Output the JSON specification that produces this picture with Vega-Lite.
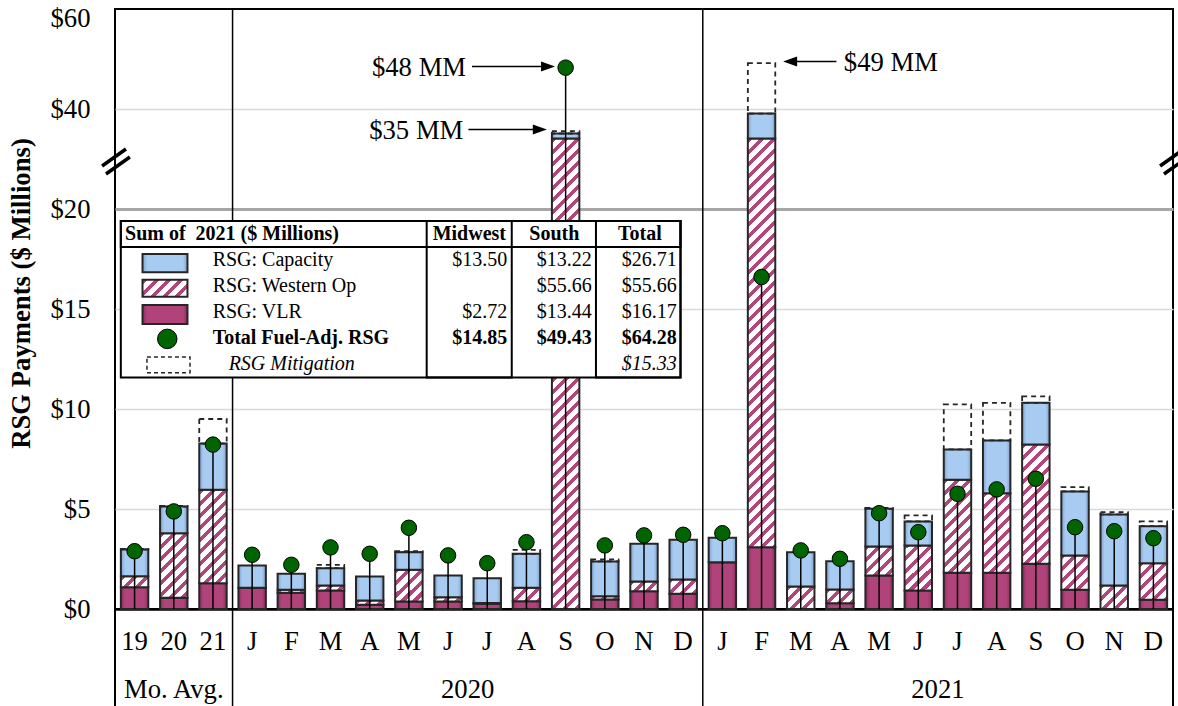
{
"$schema":"https://vega.github.io/schema/vega-lite/v6.json",
"width":1058,"height":600,
"autosize":{"type":"none"},
"padding":{"left":115,"top":9,"right":5,"bottom":97},
"background":"white",
"config":{"view":{"stroke":"black","strokeWidth":2},"font":"Liberation Serif","axis":{"labelFont":"Liberation Serif","titleFont":"Liberation Serif","labelColor":"black","titleColor":"black"},"text":{"font":"Liberation Serif","color":"black"}},
"params":[{"name":"hatch","value":[
{"offset":0,"color":"#b04679"},{"offset":0.0095,"color":"#b04679"},{"offset":0.0095,"color":"#fff"},{"offset":0.0227,"color":"#fff"},
{"offset":0.0227,"color":"#b04679"},{"offset":0.0322,"color":"#b04679"},{"offset":0.0322,"color":"#fff"},{"offset":0.0455,"color":"#fff"},
{"offset":0.0455,"color":"#b04679"},{"offset":0.055,"color":"#b04679"},{"offset":0.055,"color":"#fff"},{"offset":0.0682,"color":"#fff"},
{"offset":0.0682,"color":"#b04679"},{"offset":0.0777,"color":"#b04679"},{"offset":0.0777,"color":"#fff"},{"offset":0.0909,"color":"#fff"},
{"offset":0.0909,"color":"#b04679"},{"offset":0.1004,"color":"#b04679"},{"offset":0.1004,"color":"#fff"},{"offset":0.1136,"color":"#fff"},
{"offset":0.1136,"color":"#b04679"},{"offset":0.1231,"color":"#b04679"},{"offset":0.1231,"color":"#fff"},{"offset":0.1364,"color":"#fff"},
{"offset":0.1364,"color":"#b04679"},{"offset":0.1459,"color":"#b04679"},{"offset":0.1459,"color":"#fff"},{"offset":0.1591,"color":"#fff"},
{"offset":0.1591,"color":"#b04679"},{"offset":0.1686,"color":"#b04679"},{"offset":0.1686,"color":"#fff"},{"offset":0.1818,"color":"#fff"},
{"offset":0.1818,"color":"#b04679"},{"offset":0.1913,"color":"#b04679"},{"offset":0.1913,"color":"#fff"},{"offset":0.2045,"color":"#fff"},
{"offset":0.2045,"color":"#b04679"},{"offset":0.214,"color":"#b04679"},{"offset":0.214,"color":"#fff"},{"offset":0.2273,"color":"#fff"},
{"offset":0.2273,"color":"#b04679"},{"offset":0.2368,"color":"#b04679"},{"offset":0.2368,"color":"#fff"},{"offset":0.25,"color":"#fff"},
{"offset":0.25,"color":"#b04679"},{"offset":0.2595,"color":"#b04679"},{"offset":0.2595,"color":"#fff"},{"offset":0.2727,"color":"#fff"},
{"offset":0.2727,"color":"#b04679"},{"offset":0.2822,"color":"#b04679"},{"offset":0.2822,"color":"#fff"},{"offset":0.2955,"color":"#fff"},
{"offset":0.2955,"color":"#b04679"},{"offset":0.305,"color":"#b04679"},{"offset":0.305,"color":"#fff"},{"offset":0.3182,"color":"#fff"},
{"offset":0.3182,"color":"#b04679"},{"offset":0.3277,"color":"#b04679"},{"offset":0.3277,"color":"#fff"},{"offset":0.3409,"color":"#fff"},
{"offset":0.3409,"color":"#b04679"},{"offset":0.3504,"color":"#b04679"},{"offset":0.3504,"color":"#fff"},{"offset":0.3636,"color":"#fff"},
{"offset":0.3636,"color":"#b04679"},{"offset":0.3731,"color":"#b04679"},{"offset":0.3731,"color":"#fff"},{"offset":0.3864,"color":"#fff"},
{"offset":0.3864,"color":"#b04679"},{"offset":0.3959,"color":"#b04679"},{"offset":0.3959,"color":"#fff"},{"offset":0.4091,"color":"#fff"},
{"offset":0.4091,"color":"#b04679"},{"offset":0.4186,"color":"#b04679"},{"offset":0.4186,"color":"#fff"},{"offset":0.4318,"color":"#fff"},
{"offset":0.4318,"color":"#b04679"},{"offset":0.4413,"color":"#b04679"},{"offset":0.4413,"color":"#fff"},{"offset":0.4545,"color":"#fff"},
{"offset":0.4545,"color":"#b04679"},{"offset":0.464,"color":"#b04679"},{"offset":0.464,"color":"#fff"},{"offset":0.4773,"color":"#fff"},
{"offset":0.4773,"color":"#b04679"},{"offset":0.4868,"color":"#b04679"},{"offset":0.4868,"color":"#fff"},{"offset":0.5,"color":"#fff"},
{"offset":0.5,"color":"#b04679"},{"offset":0.5095,"color":"#b04679"},{"offset":0.5095,"color":"#fff"},{"offset":0.5227,"color":"#fff"},
{"offset":0.5227,"color":"#b04679"},{"offset":0.5322,"color":"#b04679"},{"offset":0.5322,"color":"#fff"},{"offset":0.5455,"color":"#fff"},
{"offset":0.5455,"color":"#b04679"},{"offset":0.555,"color":"#b04679"},{"offset":0.555,"color":"#fff"},{"offset":0.5682,"color":"#fff"},
{"offset":0.5682,"color":"#b04679"},{"offset":0.5777,"color":"#b04679"},{"offset":0.5777,"color":"#fff"},{"offset":0.5909,"color":"#fff"},
{"offset":0.5909,"color":"#b04679"},{"offset":0.6004,"color":"#b04679"},{"offset":0.6004,"color":"#fff"},{"offset":0.6136,"color":"#fff"},
{"offset":0.6136,"color":"#b04679"},{"offset":0.6231,"color":"#b04679"},{"offset":0.6231,"color":"#fff"},{"offset":0.6364,"color":"#fff"},
{"offset":0.6364,"color":"#b04679"},{"offset":0.6459,"color":"#b04679"},{"offset":0.6459,"color":"#fff"},{"offset":0.6591,"color":"#fff"},
{"offset":0.6591,"color":"#b04679"},{"offset":0.6686,"color":"#b04679"},{"offset":0.6686,"color":"#fff"},{"offset":0.6818,"color":"#fff"},
{"offset":0.6818,"color":"#b04679"},{"offset":0.6913,"color":"#b04679"},{"offset":0.6913,"color":"#fff"},{"offset":0.7045,"color":"#fff"},
{"offset":0.7045,"color":"#b04679"},{"offset":0.714,"color":"#b04679"},{"offset":0.714,"color":"#fff"},{"offset":0.7273,"color":"#fff"},
{"offset":0.7273,"color":"#b04679"},{"offset":0.7368,"color":"#b04679"},{"offset":0.7368,"color":"#fff"},{"offset":0.75,"color":"#fff"},
{"offset":0.75,"color":"#b04679"},{"offset":0.7595,"color":"#b04679"},{"offset":0.7595,"color":"#fff"},{"offset":0.7727,"color":"#fff"},
{"offset":0.7727,"color":"#b04679"},{"offset":0.7822,"color":"#b04679"},{"offset":0.7822,"color":"#fff"},{"offset":0.7955,"color":"#fff"},
{"offset":0.7955,"color":"#b04679"},{"offset":0.805,"color":"#b04679"},{"offset":0.805,"color":"#fff"},{"offset":0.8182,"color":"#fff"},
{"offset":0.8182,"color":"#b04679"},{"offset":0.8277,"color":"#b04679"},{"offset":0.8277,"color":"#fff"},{"offset":0.8409,"color":"#fff"},
{"offset":0.8409,"color":"#b04679"},{"offset":0.8504,"color":"#b04679"},{"offset":0.8504,"color":"#fff"},{"offset":0.8636,"color":"#fff"},
{"offset":0.8636,"color":"#b04679"},{"offset":0.8731,"color":"#b04679"},{"offset":0.8731,"color":"#fff"},{"offset":0.8864,"color":"#fff"},
{"offset":0.8864,"color":"#b04679"},{"offset":0.8959,"color":"#b04679"},{"offset":0.8959,"color":"#fff"},{"offset":0.9091,"color":"#fff"},
{"offset":0.9091,"color":"#b04679"},{"offset":0.9186,"color":"#b04679"},{"offset":0.9186,"color":"#fff"},{"offset":0.9318,"color":"#fff"},
{"offset":0.9318,"color":"#b04679"},{"offset":0.9413,"color":"#b04679"},{"offset":0.9413,"color":"#fff"},{"offset":0.9545,"color":"#fff"},
{"offset":0.9545,"color":"#b04679"},{"offset":0.964,"color":"#b04679"},{"offset":0.964,"color":"#fff"},{"offset":0.9773,"color":"#fff"},
{"offset":0.9773,"color":"#b04679"},{"offset":0.9868,"color":"#b04679"},{"offset":0.9868,"color":"#fff"},{"offset":1,"color":"#fff"}
]}],
"datasets":{
"bars":[
{"key":"A19","vlr":1.09,"west":0.55,"cap":1.34,"mit":0.03,"tot":2.89},
{"key":"A20","vlr":0.56,"west":3.23,"cap":1.33,"mit":0.04,"tot":4.88},
{"key":"A21","vlr":1.29,"west":4.67,"cap":2.31,"mit":1.23,"tot":8.22},
{"key":"2020-01","vlr":1.06,"west":0,"cap":1.11,"mit":0,"tot":2.71},
{"key":"2020-02","vlr":0.81,"west":0.15,"cap":0.8,"mit":0,"tot":2.21},
{"key":"2020-03","vlr":0.93,"west":0.25,"cap":0.86,"mit":0.17,"tot":3.08},
{"key":"2020-04","vlr":0.21,"west":0.22,"cap":1.2,"mit":0,"tot":2.76},
{"key":"2020-05","vlr":0.38,"west":1.58,"cap":0.88,"mit":0.05,"tot":4.06},
{"key":"2020-06","vlr":0.38,"west":0.21,"cap":1.09,"mit":0,"tot":2.68},
{"key":"2020-07","vlr":0.26,"west":0.04,"cap":1.24,"mit":0,"tot":2.29},
{"key":"2020-08","vlr":0.39,"west":0.67,"cap":1.7,"mit":0.2,"tot":3.34},
{"key":"2020-09","vlr":0,"west":34.1,"cap":1.0,"mit":0.46,"tot":48.27},
{"key":"2020-10","vlr":0.48,"west":0.16,"cap":1.74,"mit":0.1,"tot":3.18},
{"key":"2020-11","vlr":0.89,"west":0.49,"cap":1.88,"mit":0,"tot":3.68},
{"key":"2020-12","vlr":0.76,"west":0.72,"cap":1.98,"mit":0,"tot":3.71},
{"key":"2021-01","vlr":2.34,"west":0,"cap":1.22,"mit":0,"tot":3.79},
{"key":"2021-02","vlr":3.09,"west":31.0,"cap":5.0,"mit":10.1,"tot":16.6},
{"key":"2021-03","vlr":0,"west":1.12,"cap":1.72,"mit":0,"tot":2.93},
{"key":"2021-04","vlr":0.29,"west":0.69,"cap":1.41,"mit":0,"tot":2.51},
{"key":"2021-05","vlr":1.68,"west":1.45,"cap":1.88,"mit":0.05,"tot":4.79},
{"key":"2021-06","vlr":0.93,"west":2.25,"cap":1.2,"mit":0.3,"tot":3.84},
{"key":"2021-07","vlr":1.81,"west":4.65,"cap":1.52,"mit":2.25,"tot":5.76},
{"key":"2021-08","vlr":1.81,"west":3.98,"cap":2.64,"mit":1.88,"tot":5.98},
{"key":"2021-09","vlr":2.26,"west":5.97,"cap":2.08,"mit":0.32,"tot":6.51},
{"key":"2021-10","vlr":0.96,"west":1.72,"cap":3.2,"mit":0.21,"tot":4.09},
{"key":"2021-11","vlr":0,"west":1.18,"cap":3.55,"mit":0.11,"tot":3.89},
{"key":"2021-12","vlr":0.46,"west":1.83,"cap":1.85,"mit":0.24,"tot":3.54}
],
"tbl":[
{"r":1,"label":"RSG: Capacity","mw":"$13.50","so":"$13.22","tot":"$26.71"},
{"r":2,"label":"RSG: Western Op","mw":"","so":"$55.66","tot":"$55.66"},
{"r":3,"label":"RSG: VLR","mw":"$2.72","so":"$13.44","tot":"$16.17"},
{"r":4,"label":"Total Fuel-Adj. RSG","mw":"$14.85","so":"$49.43","tot":"$64.28"},
{"r":5,"label":"RSG Mitigation","mw":"","so":"","tot":"$15.33"}
]
},
"resolve":{"scale":{"x":"independent","y":"independent"}},
"layer":[
{
 "data":{"name":"bars"},
 "encoding":{"x":{"field":"key","type":"nominal","scale":{"domain":["A19","A20","A21","2020-01","2020-02","2020-03","2020-04","2020-05","2020-06","2020-07","2020-08","2020-09","2020-10","2020-11","2020-12","2021-01","2021-02","2021-03","2021-04","2021-05","2021-06","2021-07","2021-08","2021-09","2021-10","2021-11","2021-12"],"paddingInner":0.3,"paddingOuter":0.15},
  "axis":{"title":null,"labelExpr":"length(datum.value) == 3 ? substring(datum.value,1,3) : ['J','F','M','A','M','J','J','A','S','O','N','D'][toNumber(substring(datum.value,5,7)) - 1]","labelAngle":0,"labelFontSize":26.7,"labelPadding":40,"labelBaseline":"alphabetic","labelOverlap":false,"ticks":false,"tickSize":0,"domain":true,"domainColor":"black","domainWidth":2.5,"grid":false}}},
 "layer":[
  {"transform":[{"fold":["vlr","west","cap","mit"],"as":["series","val"]},{"stack":"val","groupby":["key"],"as":["v0","v1"]}],
   "layer":[
    {"transform":[{"filter":"datum.series === 'vlr'"}],
     "mark":{"type":"bar","fill":{"gradient":"linear","x1":0,"y1":0,"x2":1,"y2":0,"stops":[{"offset":0,"color":"#8a2d5c"},{"offset":0.15,"color":"#b0447a"},{"offset":0.85,"color":"#b0447a"},{"offset":1,"color":"#8a2d5c"}]},"stroke":"#262626","strokeWidth":2},
     "encoding":{"y":{"field":"v0","type":"quantitative","title":"RSG Payments ($ Millions)","scale":{"domain":[0,20,60],"range":[600,200,0],"nice":false,"zero":false},
       "axis":{"title":"RSG Payments ($ Millions)","values":[0,5,10,15,20,40,60],"labelExpr":"'$' + datum.value","labelFontSize":26.7,"labelPadding":25,"labelOverlap":false,"labelOffset":{"condition":{"test":"datum.value === 60","value":9},"value":0},"ticks":false,"tickSize":0,"domain":false,"grid":true,
        "gridColor":{"condition":{"test":"datum.value === 20","value":"#a6a6a6"},"value":"#d9d9d9"},
        "gridWidth":{"condition":{"test":"datum.value === 20","value":3},"value":1.5},
        "gridOpacity":{"condition":{"test":"datum.value === 0 || datum.value === 60","value":0},"value":1},
        "titleFontSize":26.7,"titleFontWeight":"bold","titleAngle":-90,"titleX":-94,"titleY":284,"titleAlign":"center","titleBaseline":"middle"}},
      "y2":{"field":"v1"}}},
    {"transform":[{"filter":"datum.series === 'west'"}],
     "mark":{"type":"bar","fill":{"expr":"{gradient:'linear',x1:0,y1:0,x2:27.4*528/(750.8+pow((datum.v1<=20?datum.v1*20:400+(datum.v1-20)*5)-(datum.v0<=20?datum.v0*20:400+(datum.v0-20)*5),2)),y2:((datum.v1<=20?datum.v1*20:400+(datum.v1-20)*5)-(datum.v0<=20?datum.v0*20:400+(datum.v0-20)*5))*528/(750.8+pow((datum.v1<=20?datum.v1*20:400+(datum.v1-20)*5)-(datum.v0<=20?datum.v0*20:400+(datum.v0-20)*5),2)),stops:hatch}"},"stroke":"#262626","strokeWidth":2},
     "encoding":{"y":{"field":"v0","type":"quantitative","title":"RSG Payments ($ Millions)"},"y2":{"field":"v1"}}},
    {"transform":[{"filter":"datum.series === 'cap'"}],
     "mark":{"type":"bar","fill":{"gradient":"linear","x1":0,"y1":0,"x2":1,"y2":0,"stops":[{"offset":0,"color":"#7e9fcc"},{"offset":0.15,"color":"#a8cbf1"},{"offset":0.85,"color":"#a8cbf1"},{"offset":1,"color":"#7e9fcc"}]},"stroke":"#262626","strokeWidth":2},
     "encoding":{"y":{"field":"v0","type":"quantitative","title":"RSG Payments ($ Millions)"},"y2":{"field":"v1"}}},
    {"transform":[{"filter":"datum.series === 'mit' && datum.val > 0"}],
     "mark":{"type":"bar","fill":"transparent","stroke":"#262626","strokeWidth":1.8,"strokeDash":[5,4]},
     "encoding":{"y":{"field":"v0","type":"quantitative","title":"RSG Payments ($ Millions)"},"y2":{"field":"v1"}}}
   ]},
  {"mark":{"type":"rule","stroke":"black","strokeWidth":1.5},
   "encoding":{"y":{"field":"tot","type":"quantitative","title":"RSG Payments ($ Millions)"},"y2":{"datum":0}}},
  {"mark":{"type":"point","shape":"circle","filled":true,"fill":"#006400","stroke":"black","strokeWidth":1,"size":240,"opacity":1},
   "encoding":{"y":{"field":"tot","type":"quantitative","title":"RSG Payments ($ Millions)"}}}
 ]
},
{
 "layer":[
  {"data":{"values":[{}]},"mark":{"type":"rule","stroke":"black","strokeWidth":1.5},
   "encoding":{"x":{"datum":3,"type":"quantitative","scale":{"domain":[0,27],"nice":false,"zero":false},"axis":null},
    "y":{"datum":60,"type":"quantitative","scale":{"domain":[0,20,60],"range":[600,200,0],"nice":false,"zero":false},"axis":null},"y2":{"datum":-5}}},
  {"data":{"values":[{}]},"mark":{"type":"rule","stroke":"black","strokeWidth":1.5},
   "encoding":{"x":{"datum":15,"type":"quantitative","axis":null},"y":{"datum":60,"type":"quantitative","axis":null},"y2":{"datum":-5}}},
  {"data":{"values":[{}]},"mark":{"type":"rule","stroke":"black","strokeWidth":2},
   "encoding":{"x":{"datum":0,"type":"quantitative","axis":null},"y":{"datum":0,"type":"quantitative","axis":null},"y2":{"datum":-5}}},
  {"data":{"values":[{}]},"mark":{"type":"rule","stroke":"black","strokeWidth":2},
   "encoding":{"x":{"datum":27,"type":"quantitative","axis":null},"y":{"datum":0,"type":"quantitative","axis":null},"y2":{"datum":-5}}},
  {"data":{"values":[{}]},"mark":{"type":"text","text":"Mo. Avg.","align":"center","baseline":"alphabetic","fontSize":26.7},
   "encoding":{"x":{"datum":1.5,"type":"quantitative","axis":null},"y":{"datum":-4.47,"type":"quantitative","axis":null}}},
  {"data":{"values":[{}]},"mark":{"type":"text","text":"2020","align":"center","baseline":"alphabetic","fontSize":26.7},
   "encoding":{"x":{"datum":9,"type":"quantitative","axis":null},"y":{"datum":-4.47,"type":"quantitative","axis":null}}},
  {"data":{"values":[{}]},"mark":{"type":"text","text":"2021","align":"center","baseline":"alphabetic","fontSize":26.7},
   "encoding":{"x":{"datum":21,"type":"quantitative","axis":null},"y":{"datum":-4.47,"type":"quantitative","axis":null}}},
  {"data":{"values":[{}]},"mark":{"type":"rule","stroke":"black","strokeWidth":1.5},
   "encoding":{"x":{"datum":9.11,"type":"quantitative","axis":null},"x2":{"datum":11.0},"y":{"datum":48.5,"type":"quantitative","axis":null}}},
  {"data":{"values":[{}]},"mark":{"type":"point","shape":"M0,0L-2,-0.7L-2,0.7Z","filled":true,"fill":"black","strokeWidth":0,"size":196,"opacity":1},
   "encoding":{"x":{"datum":11.23,"type":"quantitative","axis":null},"y":{"datum":48.5,"type":"quantitative","axis":null}}},
  {"data":{"values":[{}]},"mark":{"type":"text","text":"$48 MM","align":"right","baseline":"middle","fontSize":26.7,"dy":1},
   "encoding":{"x":{"datum":8.96,"type":"quantitative","axis":null},"y":{"datum":48.5,"type":"quantitative","axis":null}}},
  {"data":{"values":[{}]},"mark":{"type":"rule","stroke":"black","strokeWidth":1.5},
   "encoding":{"x":{"datum":9.02,"type":"quantitative","axis":null},"x2":{"datum":10.8},"y":{"datum":35.9,"type":"quantitative","axis":null}}},
  {"data":{"values":[{}]},"mark":{"type":"point","shape":"M0,0L-2,-0.7L-2,0.7Z","filled":true,"fill":"black","strokeWidth":0,"size":196,"opacity":1},
   "encoding":{"x":{"datum":11.02,"type":"quantitative","axis":null},"y":{"datum":35.9,"type":"quantitative","axis":null}}},
  {"data":{"values":[{}]},"mark":{"type":"text","text":"$35 MM","align":"right","baseline":"middle","fontSize":26.7,"dy":1},
   "encoding":{"x":{"datum":8.89,"type":"quantitative","axis":null},"y":{"datum":35.9,"type":"quantitative","axis":null}}},
  {"data":{"values":[{}]},"mark":{"type":"rule","stroke":"black","strokeWidth":1.5},
   "encoding":{"x":{"datum":17.3,"type":"quantitative","axis":null},"x2":{"datum":18.41},"y":{"datum":49.5,"type":"quantitative","axis":null}}},
  {"data":{"values":[{}]},"mark":{"type":"point","shape":"M0,0L2,-0.7L2,0.7Z","filled":true,"fill":"black","strokeWidth":0,"size":196,"opacity":1},
   "encoding":{"x":{"datum":17.05,"type":"quantitative","axis":null},"y":{"datum":49.5,"type":"quantitative","axis":null}}},
  {"data":{"values":[{}]},"mark":{"type":"text","text":"$49 MM","align":"left","baseline":"middle","fontSize":26.7,"dy":1},
   "encoding":{"x":{"datum":18.6,"type":"quantitative","axis":null},"y":{"datum":49.5,"type":"quantitative","axis":null}}},
  {"data":{"values":[{}]},"mark":{"type":"rule","stroke":"black","strokeWidth":3.5},
   "encoding":{"x":{"datum":-0.33,"type":"quantitative","axis":null},"x2":{"datum":0.28},"y":{"datum":28.6,"type":"quantitative","axis":null},"y2":{"datum":32.0}}},
  {"data":{"values":[{}]},"mark":{"type":"rule","stroke":"black","strokeWidth":3.5},
   "encoding":{"x":{"datum":-0.23,"type":"quantitative","axis":null},"x2":{"datum":0.38},"y":{"datum":27.0,"type":"quantitative","axis":null},"y2":{"datum":30.4}}},
  {"data":{"values":[{}]},"mark":{"type":"rule","stroke":"black","strokeWidth":3.5},
   "encoding":{"x":{"datum":26.67,"type":"quantitative","axis":null},"x2":{"datum":27.28},"y":{"datum":28.6,"type":"quantitative","axis":null},"y2":{"datum":32.0}}},
  {"data":{"values":[{}]},"mark":{"type":"rule","stroke":"black","strokeWidth":3.5},
   "encoding":{"x":{"datum":26.77,"type":"quantitative","axis":null},"x2":{"datum":27.38},"y":{"datum":27.0,"type":"quantitative","axis":null},"y2":{"datum":30.4}}}
 ]
},
{
 "layer":[
  {"data":{"values":[{}]},"mark":{"type":"rect","fill":"white","stroke":"black","strokeWidth":2},
   "encoding":{"x":{"datum":0.55,"type":"quantitative","scale":{"domain":[0,100],"nice":false,"zero":false},"axis":null},"x2":{"datum":53.45},
    "y":{"datum":-0.5,"type":"quantitative","scale":{"domain":[-8.62,14.37],"reverse":true,"nice":false,"zero":false},"axis":null},"y2":{"datum":5.5}}},
  {"data":{"values":[{}]},"mark":{"type":"rect","fill":"transparent","stroke":"black","strokeWidth":2},
   "encoding":{"x":{"datum":0.55,"type":"quantitative","axis":null},"x2":{"datum":53.45},"y":{"datum":-0.5,"type":"quantitative","axis":null},"y2":{"datum":0.5}}},
  {"data":{"values":[{}]},"mark":{"type":"rect","fill":"transparent","stroke":"black","strokeWidth":2},
   "encoding":{"x":{"datum":29.46,"type":"quantitative","axis":null},"x2":{"datum":37.5},"y":{"datum":-0.5,"type":"quantitative","axis":null},"y2":{"datum":5.5}}},
  {"data":{"values":[{}]},"mark":{"type":"rect","fill":"transparent","stroke":"black","strokeWidth":2},
   "encoding":{"x":{"datum":45.46,"type":"quantitative","axis":null},"x2":{"datum":53.45},"y":{"datum":-0.5,"type":"quantitative","axis":null},"y2":{"datum":5.5}}},
  {"data":{"values":[{}]},"mark":{"type":"text","text":"Sum of\u00a0 2021 ($ Millions)","align":"left","baseline":"middle","fontSize":20,"fontWeight":"bold"},
   "encoding":{"x":{"datum":0.95,"type":"quantitative","axis":null},"y":{"datum":0,"type":"quantitative","axis":null}}},
  {"data":{"values":[{}]},"mark":{"type":"text","text":"Midwest","align":"center","baseline":"middle","fontSize":20,"fontWeight":"bold"},
   "encoding":{"x":{"datum":33.49,"type":"quantitative","axis":null},"y":{"datum":0,"type":"quantitative","axis":null}}},
  {"data":{"values":[{}]},"mark":{"type":"text","text":"South","align":"center","baseline":"middle","fontSize":20,"fontWeight":"bold"},
   "encoding":{"x":{"datum":41.52,"type":"quantitative","axis":null},"y":{"datum":0,"type":"quantitative","axis":null}}},
  {"data":{"values":[{}]},"mark":{"type":"text","text":"Total","align":"center","baseline":"middle","fontSize":20,"fontWeight":"bold"},
   "encoding":{"x":{"datum":49.62,"type":"quantitative","axis":null},"y":{"datum":0,"type":"quantitative","axis":null}}},
  {"data":{"values":[{}]},"mark":{"type":"rect","fill":{"gradient":"linear","x1":0,"y1":0,"x2":1,"y2":0,"stops":[{"offset":0,"color":"#7e9fcc"},{"offset":0.1,"color":"#a8cbf1"},{"offset":0.9,"color":"#a8cbf1"},{"offset":1,"color":"#7e9fcc"}]},"stroke":"#262626","strokeWidth":2},
   "encoding":{"x":{"datum":2.6,"type":"quantitative","axis":null},"x2":{"datum":6.85},"y":{"datum":0.77,"type":"quantitative","axis":null},"y2":{"datum":1.47}}},
  {"data":{"values":[{}]},"mark":{"type":"rect","fill":{"expr":"{gradient:'linear',x1:0,y1:0,x2:10.24,y2:3.91,stops:hatch}"},"stroke":"#262626","strokeWidth":2},
   "encoding":{"x":{"datum":2.6,"type":"quantitative","axis":null},"x2":{"datum":6.85},"y":{"datum":1.75,"type":"quantitative","axis":null},"y2":{"datum":2.41}}},
  {"data":{"values":[{}]},"mark":{"type":"rect","fill":{"gradient":"linear","x1":0,"y1":0,"x2":1,"y2":0,"stops":[{"offset":0,"color":"#8a2d5c"},{"offset":0.1,"color":"#b0447a"},{"offset":0.9,"color":"#b0447a"},{"offset":1,"color":"#8a2d5c"}]},"stroke":"#262626","strokeWidth":2},
   "encoding":{"x":{"datum":2.6,"type":"quantitative","axis":null},"x2":{"datum":6.85},"y":{"datum":2.72,"type":"quantitative","axis":null},"y2":{"datum":3.45}}},
  {"data":{"values":[{}]},"mark":{"type":"point","shape":"circle","filled":true,"fill":"#006400","stroke":"black","strokeWidth":1,"size":380,"opacity":1},
   "encoding":{"x":{"datum":4.94,"type":"quantitative","axis":null},"y":{"datum":4.02,"type":"quantitative","axis":null}}},
  {"data":{"values":[{}]},"mark":{"type":"rect","fill":"transparent","stroke":"#262626","strokeWidth":1.5,"strokeDash":[4,3]},
   "encoding":{"x":{"datum":3.02,"type":"quantitative","axis":null},"x2":{"datum":7.09},"y":{"datum":4.71,"type":"quantitative","axis":null},"y2":{"datum":5.32}}},
  {"data":{"name":"tbl"},"mark":{"type":"text","align":"left","baseline":"middle","fontSize":20,"fontWeight":{"expr":"datum.r === 4 ? 'bold' : 'normal'"},"fontStyle":{"expr":"datum.r === 5 ? 'italic' : 'normal'"},"dx":{"expr":"datum.r === 5 ? 16 : 0"}},
   "encoding":{"x":{"datum":9.23,"type":"quantitative","axis":null},"y":{"field":"r","type":"quantitative","axis":null},"text":{"field":"label"}}},
  {"data":{"name":"tbl"},"mark":{"type":"text","align":"right","baseline":"middle","fontSize":20,"fontWeight":{"expr":"datum.r === 4 ? 'bold' : 'normal'"},"fontStyle":{"expr":"datum.r === 5 ? 'italic' : 'normal'"}},
   "encoding":{"x":{"datum":37.08,"type":"quantitative","axis":null},"y":{"field":"r","type":"quantitative","axis":null},"text":{"field":"mw"}}},
  {"data":{"name":"tbl"},"mark":{"type":"text","align":"right","baseline":"middle","fontSize":20,"fontWeight":{"expr":"datum.r === 4 ? 'bold' : 'normal'"},"fontStyle":{"expr":"datum.r === 5 ? 'italic' : 'normal'"}},
   "encoding":{"x":{"datum":45.06,"type":"quantitative","axis":null},"y":{"field":"r","type":"quantitative","axis":null},"text":{"field":"so"}}},
  {"data":{"name":"tbl"},"mark":{"type":"text","align":"right","baseline":"middle","fontSize":20,"fontWeight":{"expr":"datum.r === 4 ? 'bold' : 'normal'"},"fontStyle":{"expr":"datum.r === 5 ? 'italic' : 'normal'"}},
   "encoding":{"x":{"datum":53.09,"type":"quantitative","axis":null},"y":{"field":"r","type":"quantitative","axis":null},"text":{"field":"tot"}}}
 ]
}
]
}
